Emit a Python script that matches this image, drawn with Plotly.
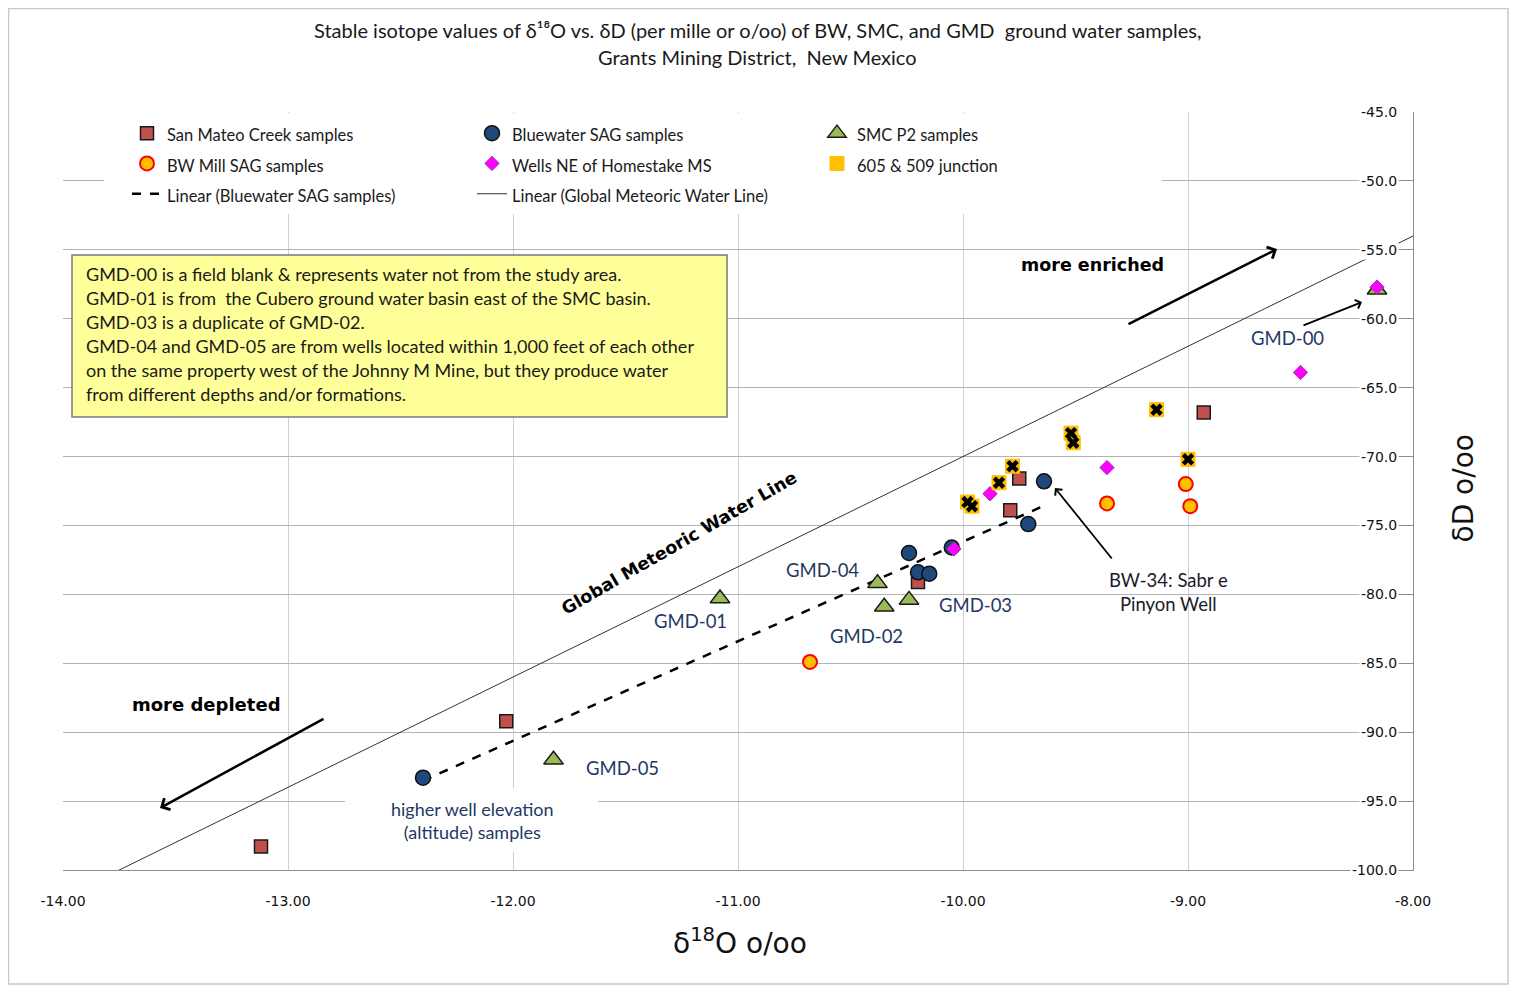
import numpy as np
import plotly.graph_objects as go

# ---------------- data ----------------
x_range = [-14, -8]
y_range = [-100, -45]

smc_creek_x = [-13.12, -12.03, -8.93, -9.75, -9.79, -10.20]
smc_creek_y = [-98.3, -89.2, -66.8, -71.6, -73.9, -79.1]

bluewater_x = [-12.40, -9.64, -9.71, -10.05, -10.24, -10.20, -10.15]
bluewater_y = [-93.3, -71.8, -74.9, -76.6, -77.0, -78.4, -78.5]

smc_p2_labels = ["GMD-00", "GMD-01", "GMD-04", "GMD-02", "GMD-03", "GMD-05"]
smc_p2_x = [-8.16, -11.08, -10.38, -10.35, -10.24, -11.82]
smc_p2_y = [-57.9, -80.3, -79.2, -80.9, -80.4, -92.0]

bw_mill_x = [-10.68, -9.36, -9.01, -8.99]
bw_mill_y = [-84.9, -73.4, -72.0, -73.6]

wells_ne_x = [-8.16, -8.50, -9.36, -9.88, -10.04]
wells_ne_y = [-57.7, -63.9, -70.8, -72.7, -76.7]

junction_x = [-9.14, -9.52, -9.51, -9.00, -9.78, -9.84, -9.98, -9.96]
junction_y = [-66.6, -68.3, -69.0, -70.2, -70.7, -71.9, -73.3, -73.6]

# Global Meteoric Water Line: dD = 8 * d18O + 10
gmwl_slope = 8.0
gmwl_intercept = 10.0

x_ticks = [-14, -13, -12, -11, -10, -9, -8]
y_ticks = [-100, -95, -90, -85, -80, -75, -70, -65, -60, -55, -50, -45]

title_lines = [
    "Stable isotope values of δ¹⁸O vs. δD (per mille or o/oo) of BW, SMC, and GMD  ground water samples,",
    "Grants Mining District,  New Mexico",
]

# ---------------- layout geometry ----------------
# page body adds an 8px margin; the figure is sized so it fits the 1517x993 window
OFF = 8
W, H = 1517 - 2 * OFF, 993 - 2 * OFF
# plot area in screen pixels: x 63..1413, y 112..870
SL, ST, SR, SB = 63, 112, 1413, 870
L, T = SL - OFF, ST - OFF
R, B = W - (SR - OFF), H - (SB - OFF)
PW, PH = SR - SL, SB - ST


def dx(sx):
    return x_range[0] + (sx - SL) / PW * (x_range[1] - x_range[0])


def dy(sy):
    return y_range[1] - (sy - ST) / PH * (y_range[1] - y_range[0])


def pxp(sx):
    return (sx - SL) / PW


def pyp(sy):
    return (SB - sy) / PH


BODY = "Lato, 'Liberation Sans', sans-serif"
NAVY = "#1F3864"
TICKF = dict(family="DejaVu Sans", size=14, color="#111111")


def lname(s):
    return '<span style="font-size:16.5px">' + s + "</span>"


fig = go.Figure()

# trend lines (drawn first, listed last in legend)
fit = np.polyfit(bluewater_x, bluewater_y, 1)
fit_x = np.array([min(bluewater_x), max(bluewater_x)])
fig.add_trace(go.Scatter(x=fit_x, y=np.polyval(fit, fit_x), mode="lines",
                         line=dict(color="black", width=2.5, dash="dash"),
                         name=lname("Linear (Bluewater SAG samples)"), legendrank=7))
gx = np.array(x_range, dtype=float)
fig.add_trace(go.Scatter(x=gx, y=gmwl_slope * gx + gmwl_intercept, mode="lines",
                         line=dict(color="#333333", width=1),
                         name=lname("Linear (Global Meteoric Water Line)"), legendrank=8))

fig.add_trace(go.Scatter(x=smc_creek_x, y=smc_creek_y, mode="markers",
                         marker=dict(symbol="square", size=13, color="#C0504D",
                                     line=dict(color="#1a1a1a", width=1.5)),
                         name=lname("San Mateo Creek samples"), legendrank=1))
fig.add_trace(go.Scatter(x=bluewater_x, y=bluewater_y, mode="markers",
                         marker=dict(symbol="circle", size=15, color="#1F497D",
                                     line=dict(color="#111111", width=1.5)),
                         name=lname("Bluewater SAG samples"), legendrank=2))
fig.add_trace(go.Scatter(x=smc_p2_x, y=smc_p2_y, mode="markers", text=smc_p2_labels,
                         marker=dict(symbol="triangle-up", size=17, color="#9BBB59",
                                     line=dict(color="#1a1a1a", width=1.5)),
                         name=lname("SMC P2 samples"), legendrank=3))
fig.add_trace(go.Scatter(x=bw_mill_x, y=bw_mill_y, mode="markers",
                         marker=dict(symbol="circle", size=14, color="#FFC000",
                                     line=dict(color="#FF0000", width=2)),
                         name=lname("BW Mill SAG samples"), legendrank=4))
fig.add_trace(go.Scatter(x=wells_ne_x, y=wells_ne_y, mode="markers",
                         marker=dict(symbol="diamond", size=11, color="#FF00FF",
                                     line=dict(color="#9933aa", width=1)),
                         name=lname("Wells NE of Homestake MS"), legendrank=5))
fig.add_trace(go.Scatter(x=junction_x, y=junction_y, mode="markers",
                         marker=dict(symbol="square", size=14, color="#FFC000",
                                     line=dict(color="#FFC000", width=1)),
                         name=lname("605 &amp; 509 junction"), legendrank=6,
                         legendgroup="junc"))
fig.add_trace(go.Scatter(x=junction_x, y=junction_y, mode="markers",
                         marker=dict(symbol="x", size=11, color="black",
                                     line=dict(width=0)),
                         showlegend=False, legendgroup="junc", hoverinfo="skip"))

shapes = [
    # outer chart border
    dict(type="rect", xref="paper", yref="paper", x0=pxp(8.5), x1=pxp(1508),
         y0=pyp(984), y1=pyp(8.5), line=dict(color="#c8c8c8", width=1.5)),
    # white backing of the legend area
    dict(type="rect", xref="x", yref="y", x0=dx(104), x1=dx(1140), y0=dy(207), y1=dy(116),
         fillcolor="white", line=dict(width=0), layer="between"),
    # white backing behind the "higher well elevation" label
    dict(type="rect", xref="x", yref="y", x0=dx(345), x1=dx(598), y0=dy(788), y1=dy(852),
         fillcolor="white", line=dict(width=0), layer="between"),
    # yellow note box
    dict(type="rect", xref="x", yref="y", x0=dx(72), x1=dx(727), y0=dy(255), y1=dy(417),
         fillcolor="#FFFF99", line=dict(color="#7a7a7a", width=1.5), layer="above"),
]

annotations = []

# chart title (two centred lines)
for i, t in enumerate(title_lines):
    annotations.append(dict(x=pxp(757), y=pyp(30 + 27 * i), xref="paper", yref="paper",
                            text=t, showarrow=False, xanchor="center", yanchor="middle",
                            font=dict(family=BODY, size=20, color="#1a1a1a")))

notes = [
    "GMD-00 is a field blank &amp; represents water not from the study area.",
    "GMD-01 is from  the Cubero ground water basin east of the SMC basin.",
    "GMD-03 is a duplicate of GMD-02.",
    "GMD-04 and GMD-05 are from wells located within 1,000 feet of each other",
    "on the same property west of the Johnny M Mine, but they produce water",
    "from different depths and/or formations.",
]
for i, t in enumerate(notes):
    annotations.append(dict(x=dx(84), y=dy(274 + 24 * i), xref="x", yref="y", text=t,
                            showarrow=False, xanchor="left", yanchor="middle",
                            font=dict(family=BODY, size=18, color="#1a1a1a")))

# GMD sample labels
gmd_label_pos = {"GMD-00": (1287, 338), "GMD-01": (690, 621), "GMD-04": (822, 570),
                 "GMD-02": (866, 636), "GMD-03": (975, 605), "GMD-05": (622, 768)}
for lab in smc_p2_labels:
    sx, sy = gmd_label_pos[lab]
    annotations.append(dict(x=dx(sx), y=dy(sy), xref="x", yref="y", text=lab,
                            showarrow=False, font=dict(family=BODY, size=18.5, color=NAVY)))

annotations += [
    dict(x=dx(1168), y=dy(592), xref="x", yref="y", text="BW-34: Sabr e<br>Pinyon Well",
         showarrow=False, font=dict(family=BODY, size=18.5, color="#1a1a2e")),
    dict(x=dx(472), y=dy(820), xref="x", yref="y",
         text="higher well elevation<br>(altitude) samples",
         showarrow=False, font=dict(family=BODY, size=18, color=NAVY)),
    dict(x=dx(1092), y=dy(265), xref="x", yref="y", text="<b>more enriched</b>",
         showarrow=False, font=dict(family="DejaVu Sans", size=17.5, color="black")),
    dict(x=dx(206), y=dy(704), xref="x", yref="y", text="<b>more depleted</b>",
         showarrow=False, font=dict(family="DejaVu Sans", size=18, color="black")),
    dict(x=dx(679), y=dy(543), xref="x", yref="y", text="<b>Global Meteoric Water Line</b>",
         textangle=-30, showarrow=False,
         font=dict(family="DejaVu Sans", size=17.5, color="black")),
]

# arrows
arrows = [((1277, 249), (1127, 325), 2.5), ((160, 808), (325, 718), 2.5),
          ((1362, 302), (1302, 326), 1.8), ((1055, 488), (1113, 560), 1.8)]
for (hx, hy), (tx, ty), wdt in arrows:
    annotations.append(dict(x=dx(hx), y=dy(hy), ax=dx(tx), ay=dy(ty), xref="x", yref="y",
                            axref="x", ayref="y", text="", showarrow=True,
                            arrowhead=4, arrowsize=1, arrowwidth=wdt, arrowcolor="black"))

# y tick labels sit inside the plot, left of the right-hand axis
for v in y_ticks:
    annotations.append(dict(x=pxp(1399), y=v, xref="paper", yref="y", text=f"{v:.1f}",
                            xanchor="right", yanchor="middle", showarrow=False,
                            font=TICKF, bgcolor="white"))

# axis titles
annotations += [
    dict(x=pxp(740), y=pyp(921), xref="paper", yref="paper", text="δ<sup>18</sup>O o/oo",
         showarrow=False, xanchor="center", yanchor="top",
         font=dict(family="DejaVu Sans", size=28, color="#111111")),
    dict(x=pxp(1481), y=pyp(489), xref="paper", yref="paper", text="δD o/oo",
         textangle=-90, showarrow=False,
         font=dict(family="DejaVu Sans", size=28, color="#111111")),
]

fig.update_layout(
    width=W, height=H,
    margin=dict(l=L, r=R, t=T, b=B),
    paper_bgcolor="white", plot_bgcolor="white",
    xaxis=dict(range=x_range, tickvals=x_ticks, ticktext=[f"{v:.2f}" for v in x_ticks],
               showgrid=True, gridcolor="#d0d0d0", gridwidth=1, zeroline=False,
               showline=True, linecolor="#8c8c8c", linewidth=1.2, ticks="",
               ticklabelstandoff=18, tickfont=TICKF),
    yaxis=dict(range=y_range, tickvals=y_ticks, side="right", showticklabels=False,
               ticks="inside", ticklen=14, tickcolor="#8c8c8c",
               showgrid=True, gridcolor="#b4b4b4", gridwidth=1, zeroline=False,
               showline=True, linecolor="#8c8c8c", linewidth=1.2),
    legend=dict(orientation="h", x=pxp(127), y=pyp(113), xanchor="left", yanchor="top",
                bgcolor="white", borderwidth=0, traceorder="normal",
                entrywidth=300, entrywidthmode="pixels",
                font=dict(family="Lato", size=21, color="#1a1a1a")),
    shapes=shapes,
    annotations=annotations,
    showlegend=True,
)

fig.write_html("out.html")
